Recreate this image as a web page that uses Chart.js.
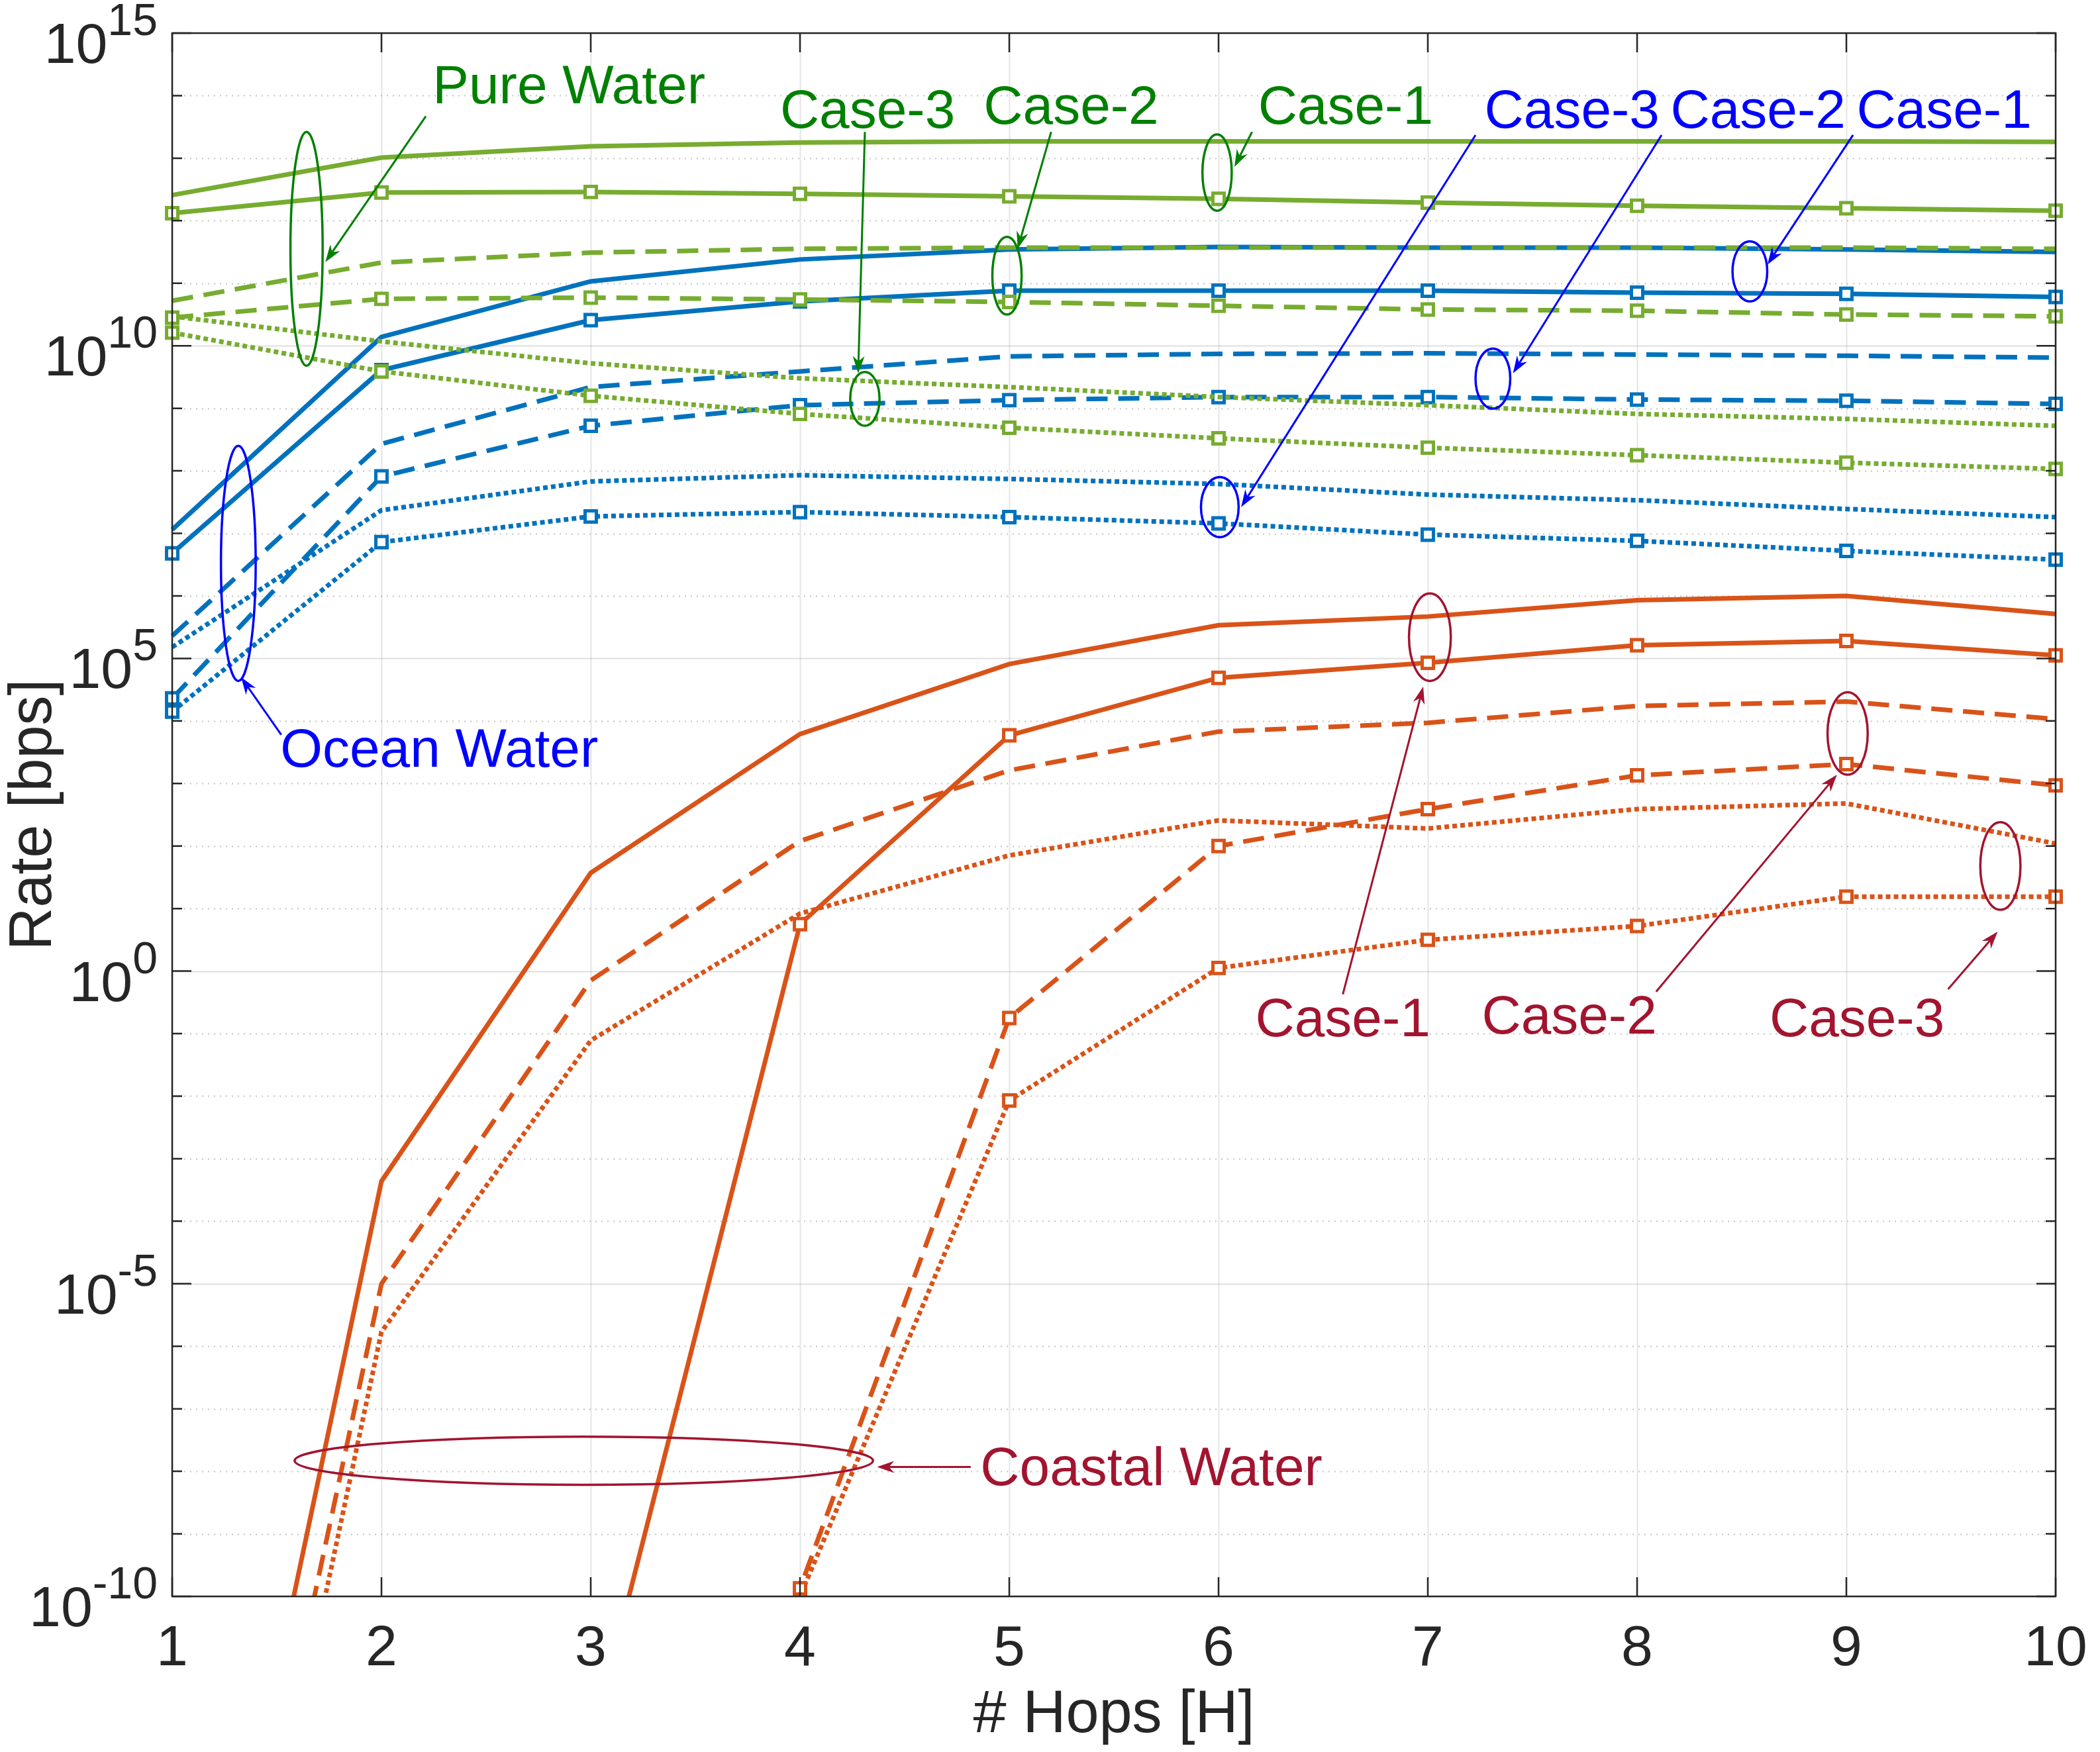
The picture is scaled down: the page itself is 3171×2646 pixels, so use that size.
<!DOCTYPE html>
<html>
<head>
<meta charset="utf-8">
<script src="https://cdn.jsdelivr.net/npm/chart.js@4.4.1/dist/chart.umd.min.js"></script>
<style>
  html, body { margin: 0; padding: 0; background: #ffffff; }
  #wrap { width: 3171px; height: 2646px; }
</style>
</head>
<body>
<div id="wrap"><canvas id="rateChart" width="3171" height="2646"></canvas></div>
<script>
// --- Data (log10 of rate in bps) ---
const hops = [1, 2, 3, 4, 5, 6, 7, 8, 9, 10];
const yTickExponents = [-10, -5, 0, 5, 10, 15];

// Pure water
const pureCase1   = [12.41, 13.01, 13.19, 13.25, 13.27, 13.27, 13.27, 13.27, 13.27, 13.26];
const pureCase1Mk = [12.12, 12.45, 12.46, 12.43, 12.39, 12.35, 12.29, 12.24, 12.20, 12.16];
const pureCase2   = [10.72, 11.33, 11.49, 11.55, 11.57, 11.57, 11.57, 11.57, 11.57, 11.55];
const pureCase2Mk = [10.45, 10.75, 10.77, 10.74, 10.70, 10.64, 10.58, 10.56, 10.50, 10.47];
const pureCase3   = [10.47, 10.07, 9.72, 9.48, 9.34, 9.18, 9.05, 8.91, 8.83, 8.72];
const pureCase3Mk = [10.21, 9.59, 9.20, 8.91, 8.69, 8.52, 8.37, 8.25, 8.13, 8.03];

// Ocean water
const oceanCase1   = [7.06, 10.14, 11.03, 11.38, 11.54, 11.58, 11.57, 11.57, 11.54, 11.50];
const oceanCase1Mk = [6.68, 9.61, 10.41, 10.71, 10.88, 10.88, 10.88, 10.85, 10.83, 10.78];
const oceanCase2   = [5.36, 8.43, 9.34, 9.59, 9.83, 9.87, 9.88, 9.86, 9.84, 9.81];
const oceanCase2Mk = [4.36, 7.91, 8.72, 9.05, 9.13, 9.18, 9.18, 9.14, 9.12, 9.07];
const oceanCase3   = [5.18, 7.37, 7.83, 7.93, 7.87, 7.79, 7.62, 7.53, 7.39, 7.26];
const oceanCase3Mk = [4.15, 6.86, 7.27, 7.34, 7.26, 7.16, 6.98, 6.88, 6.72, 6.58];

// Coastal water (first points are far below the axis, only the slope shows)
const coastCase1   = [-19.2, -3.36, 1.57, 3.79, 4.91, 5.53, 5.67, 5.93, 6.00, 5.71];
const coastCase1Mk = [-45, -28, -12.4, 0.75, 3.77, 4.69, 4.93, 5.21, 5.28, 5.05];
const coastCase2   = [-20.6, -5.0, -0.15, 2.08, 3.21, 3.83, 3.97, 4.24, 4.31, 4.03];
const coastCase2Mk = [-48, -35, -22, -9.87, -0.75, 2.00, 2.59, 3.13, 3.31, 2.97];
const coastCase3   = [-21.5, -5.77, -1.11, 0.92, 1.85, 2.41, 2.28, 2.59, 2.68, 2.04];
const coastCase3Mk = [-50, -37, -24, -10.0, -2.07, 0.05, 0.50, 0.72, 1.19, 1.19];

// --- Styles ---
const GREEN = '#77AC30';
const BLUE = '#0072BD';
const ORANGE = '#D95319';
const NOTE_GREEN = '#008000';
const NOTE_BLUE = '#0000FF';
const NOTE_RED = '#A2142F';
const AXIS = '#262626';
const FONT = '"Liberation Sans", Arial, Helvetica, sans-serif';

const SOLID = [];
const DASHED = [32, 16];
const DOTTED = [7, 5];

// annotations, in data units (x = hops, y = log10 rate)
const noteTexts = [
  { text: 'Pure Water', x: 2.896, y: 14.19, color: NOTE_GREEN },
  { text: 'Case-3', x: 4.323, y: 13.80, color: NOTE_GREEN },
  { text: 'Case-2', x: 5.296, y: 13.87, color: NOTE_GREEN },
  { text: 'Case-1', x: 6.607, y: 13.87, color: NOTE_GREEN },
  { text: 'Case-3', x: 7.689, y: 13.80, color: NOTE_BLUE },
  { text: 'Case-2', x: 8.578, y: 13.80, color: NOTE_BLUE },
  { text: 'Case-1', x: 9.467, y: 13.80, color: NOTE_BLUE },
  { text: 'Ocean Water', x: 2.276, y: 3.59, color: NOTE_BLUE },
  { text: 'Case-1', x: 6.594, y: -0.72, color: NOTE_RED },
  { text: 'Case-2', x: 7.676, y: -0.68, color: NOTE_RED },
  { text: 'Case-3', x: 9.051, y: -0.72, color: NOTE_RED },
  { text: 'Coastal Water', x: 5.679, y: -7.90, color: NOTE_RED }
];

const noteEllipses = [
  { x: 1.642, y: 11.55, rx: 0.077, ry: 1.87, color: NOTE_GREEN },
  { x: 4.310, y: 9.15, rx: 0.070, ry: 0.43, color: NOTE_GREEN },
  { x: 4.989, y: 11.12, rx: 0.070, ry: 0.62, color: NOTE_GREEN },
  { x: 5.993, y: 12.77, rx: 0.070, ry: 0.61, color: NOTE_GREEN },
  { x: 6.006, y: 7.42, rx: 0.090, ry: 0.48, color: NOTE_BLUE },
  { x: 7.311, y: 9.475, rx: 0.083, ry: 0.48, color: NOTE_BLUE },
  { x: 8.539, y: 11.19, rx: 0.083, ry: 0.48, color: NOTE_BLUE },
  { x: 1.316, y: 6.52, rx: 0.083, ry: 1.88, color: NOTE_BLUE },
  { x: 7.010, y: 5.34, rx: 0.100, ry: 0.70, color: NOTE_RED },
  { x: 9.006, y: 3.80, rx: 0.096, ry: 0.66, color: NOTE_RED },
  { x: 9.736, y: 1.68, rx: 0.096, ry: 0.70, color: NOTE_RED },
  { x: 2.967, y: -7.83, rx: 1.382, ry: 0.385, color: NOTE_RED }
];

const noteArrows = [
  { x1: 2.212, y1: 13.67, x2: 1.732, y2: 11.34, color: NOTE_GREEN },
  { x1: 4.310, y1: 13.42, x2: 4.278, y2: 9.56, color: NOTE_GREEN },
  { x1: 5.200, y1: 13.42, x2: 5.040, y2: 11.55, color: NOTE_GREEN },
  { x1: 6.160, y1: 13.42, x2: 6.076, y2: 12.86, color: NOTE_GREEN },
  { x1: 7.228, y1: 13.37, x2: 6.108, y2: 7.42, color: NOTE_BLUE },
  { x1: 8.117, y1: 13.37, x2: 7.407, y2: 9.56, color: NOTE_BLUE },
  { x1: 9.032, y1: 13.37, x2: 8.623, y2: 11.30, color: NOTE_BLUE },
  { x1: 1.521, y1: 3.78, x2: 1.329, y2: 4.70, color: NOTE_BLUE },
  { x1: 6.594, y1: -0.37, x2: 6.978, y2: 4.55, color: NOTE_RED },
  { x1: 8.091, y1: -0.33, x2: 8.955, y2: 3.14, color: NOTE_RED },
  { x1: 9.486, y1: -0.29, x2: 9.723, y2: 0.63, color: NOTE_RED },
  { x1: 4.816, y1: -7.93, x2: 4.368, y2: -7.93, color: NOTE_RED }
];

const makeSeries = (label, logs, color, dash, marker) => ({
  label: label,
  data: hops.map((h, i) => ({ x: h, y: Math.pow(10, logs[i]) })),
  borderColor: color,
  borderWidth: 7,
  borderDash: dash,
  borderCapStyle: 'butt',
  borderJoinStyle: 'miter',
  tension: 0,
  fill: false,
  pointStyle: 'rect',
  pointRadius: marker ? 12 : 0,
  pointBorderWidth: 5,
  pointBorderColor: color,
  pointBackgroundColor: '#ffffff',
  clip: { left: 24, right: 24, top: 24, bottom: 0 }
});

const datasets = [
  makeSeries('Pure Case-1', pureCase1, GREEN, SOLID, false),
  makeSeries('Pure Case-1 (marked)', pureCase1Mk, GREEN, SOLID, true),
  makeSeries('Pure Case-2', pureCase2, GREEN, DASHED, false),
  makeSeries('Pure Case-2 (marked)', pureCase2Mk, GREEN, DASHED, true),
  makeSeries('Pure Case-3', pureCase3, GREEN, DOTTED, false),
  makeSeries('Pure Case-3 (marked)', pureCase3Mk, GREEN, DOTTED, true),
  makeSeries('Ocean Case-1', oceanCase1, BLUE, SOLID, false),
  makeSeries('Ocean Case-1 (marked)', oceanCase1Mk, BLUE, SOLID, true),
  makeSeries('Ocean Case-2', oceanCase2, BLUE, DASHED, false),
  makeSeries('Ocean Case-2 (marked)', oceanCase2Mk, BLUE, DASHED, true),
  makeSeries('Ocean Case-3', oceanCase3, BLUE, DOTTED, false),
  makeSeries('Ocean Case-3 (marked)', oceanCase3Mk, BLUE, DOTTED, true),
  makeSeries('Coastal Case-1', coastCase1, ORANGE, SOLID, false),
  makeSeries('Coastal Case-1 (marked)', coastCase1Mk, ORANGE, SOLID, true),
  makeSeries('Coastal Case-2', coastCase2, ORANGE, DASHED, false),
  makeSeries('Coastal Case-2 (marked)', coastCase2Mk, ORANGE, DASHED, true),
  makeSeries('Coastal Case-3', coastCase3, ORANGE, DOTTED, false),
  makeSeries('Coastal Case-3 (marked)', coastCase3Mk, ORANGE, DOTTED, true)
];

// --- MATLAB-like grid, box, ticks and labels ---
const axesPlugin = {
  id: 'matlabAxes',
  beforeDatasetsDraw(chart) {
    const { ctx, chartArea: a, scales: { x, y } } = chart;
    ctx.save();
    ctx.lineWidth = 2;
    ctx.strokeStyle = 'rgba(38,38,38,0.12)';
    hops.forEach(h => {
      const p = Math.round(x.getPixelForValue(h)) + 0.5;
      ctx.beginPath(); ctx.moveTo(p, a.top); ctx.lineTo(p, a.bottom); ctx.stroke();
    });
    for (let e = yTickExponents[0]; e <= yTickExponents[yTickExponents.length - 1]; e++) {
      const p = Math.round(y.getPixelForValue(Math.pow(10, e))) + 0.5;
      if (e % 5 === 0) {
        ctx.setLineDash([]);
        ctx.strokeStyle = 'rgba(38,38,38,0.14)';
      } else {
        ctx.setLineDash([2, 7]);
        ctx.strokeStyle = 'rgba(38,38,38,0.28)';
      }
      ctx.beginPath(); ctx.moveTo(a.left, p); ctx.lineTo(a.right, p); ctx.stroke();
    }
    ctx.restore();
  },
  afterDatasetsDraw(chart) {
    const { ctx, chartArea: a, scales: { x, y } } = chart;
    ctx.save();
    ctx.strokeStyle = AXIS;
    ctx.lineWidth = 2.5;
    ctx.strokeRect(a.left, a.top, a.right - a.left, a.bottom - a.top);

    // tick marks, pointing inwards on all four sides
    hops.forEach(h => {
      const p = x.getPixelForValue(h);
      ctx.beginPath();
      ctx.moveTo(p, a.bottom); ctx.lineTo(p, a.bottom - 29);
      ctx.moveTo(p, a.top); ctx.lineTo(p, a.top + 29);
      ctx.stroke();
    });
    for (let e = yTickExponents[0]; e <= yTickExponents[yTickExponents.length - 1]; e++) {
      const p = y.getPixelForValue(Math.pow(10, e));
      const len = e % 5 === 0 ? 29 : 15;
      ctx.beginPath();
      ctx.moveTo(a.left, p); ctx.lineTo(a.left + len, p);
      ctx.moveTo(a.right, p); ctx.lineTo(a.right - len, p);
      ctx.stroke();
    }

    // tick labels
    ctx.fillStyle = AXIS;
    ctx.textBaseline = 'alphabetic';
    ctx.font = '86px ' + FONT;
    ctx.textAlign = 'center';
    hops.forEach(h => {
      ctx.fillText(String(h), x.getPixelForValue(h), a.bottom + 104);
    });
    yTickExponents.forEach(e => {
      const p = y.getPixelForValue(Math.pow(10, e));
      const right = a.left - 22;
      const sup = String(e);
      ctx.textAlign = 'left';
      ctx.font = '68px ' + FONT;
      const wSup = ctx.measureText(sup).width;
      ctx.fillText(sup, right - wSup, p + 3);
      ctx.font = '86px ' + FONT;
      const wBase = ctx.measureText('10').width;
      ctx.fillText('10', right - wSup - wBase, p + 45);
    });

    // axis titles
    ctx.font = '90px ' + FONT;
    ctx.textAlign = 'center';
    ctx.textBaseline = 'middle';
    ctx.fillText('# Hops [H]', (a.left + a.right) / 2, a.bottom + 180);
    ctx.save();
    ctx.translate(52, (a.top + a.bottom) / 2);
    ctx.rotate(-Math.PI / 2);
    ctx.fillText('Rate [bps]', 0, 0);
    ctx.restore();
    ctx.restore();
  }
};

const drawArrow = (ctx, x1, y1, x2, y2, color) => {
  const ang = Math.atan2(y2 - y1, x2 - x1);
  const len = 26, half = 9, notch = 8;
  const bx = x2 - Math.cos(ang) * (len - notch);
  const by = y2 - Math.sin(ang) * (len - notch);
  ctx.strokeStyle = color;
  ctx.fillStyle = color;
  ctx.lineWidth = 3;
  ctx.beginPath(); ctx.moveTo(x1, y1); ctx.lineTo(bx, by); ctx.stroke();
  const cx = x2 - Math.cos(ang) * len, cy = y2 - Math.sin(ang) * len;
  const nx = -Math.sin(ang), ny = Math.cos(ang);
  ctx.beginPath();
  ctx.moveTo(x2, y2);
  ctx.lineTo(cx + nx * half, cy + ny * half);
  ctx.lineTo(bx, by);
  ctx.lineTo(cx - nx * half, cy - ny * half);
  ctx.closePath();
  ctx.fill();
};

const notesPlugin = {
  id: 'notes',
  afterDraw(chart) {
    const { ctx, scales: { x, y } } = chart;
    const px = v => x.getPixelForValue(v);
    const py = e => y.getPixelForValue(Math.pow(10, e));
    ctx.save();
    noteEllipses.forEach(el => {
      const cx = px(el.x), cy = py(el.y);
      const rx = Math.abs(px(el.x + el.rx) - cx);
      const ry = Math.abs(py(el.y + el.ry) - cy);
      ctx.beginPath();
      ctx.ellipse(cx, cy, rx, ry, 0, 0, Math.PI * 2);
      ctx.strokeStyle = el.color;
      ctx.lineWidth = 3.5;
      ctx.stroke();
    });
    noteArrows.forEach(ar => drawArrow(ctx, px(ar.x1), py(ar.y1), px(ar.x2), py(ar.y2), ar.color));
    ctx.font = '82px ' + FONT;
    ctx.textAlign = 'center';
    ctx.textBaseline = 'alphabetic';
    noteTexts.forEach(t => {
      ctx.fillStyle = t.color;
      ctx.fillText(t.text, px(t.x), py(t.y) + 30);
    });
    ctx.restore();
  }
};

new Chart(document.getElementById('rateChart').getContext('2d'), {
  type: 'line',
  data: { datasets: datasets },
  options: {
    responsive: false,
    animation: false,
    devicePixelRatio: 1,
    layout: { padding: { left: 260, right: 67, top: 50, bottom: 235 } },
    plugins: {
      legend: { display: false },
      tooltip: { enabled: false }
    },
    scales: {
      x: { type: 'linear', min: 1, max: 10, display: false },
      y: { type: 'logarithmic', min: 1e-10, max: 1e15, display: false }
    }
  },
  plugins: [axesPlugin, notesPlugin]
});
</script>
</body>
</html>
